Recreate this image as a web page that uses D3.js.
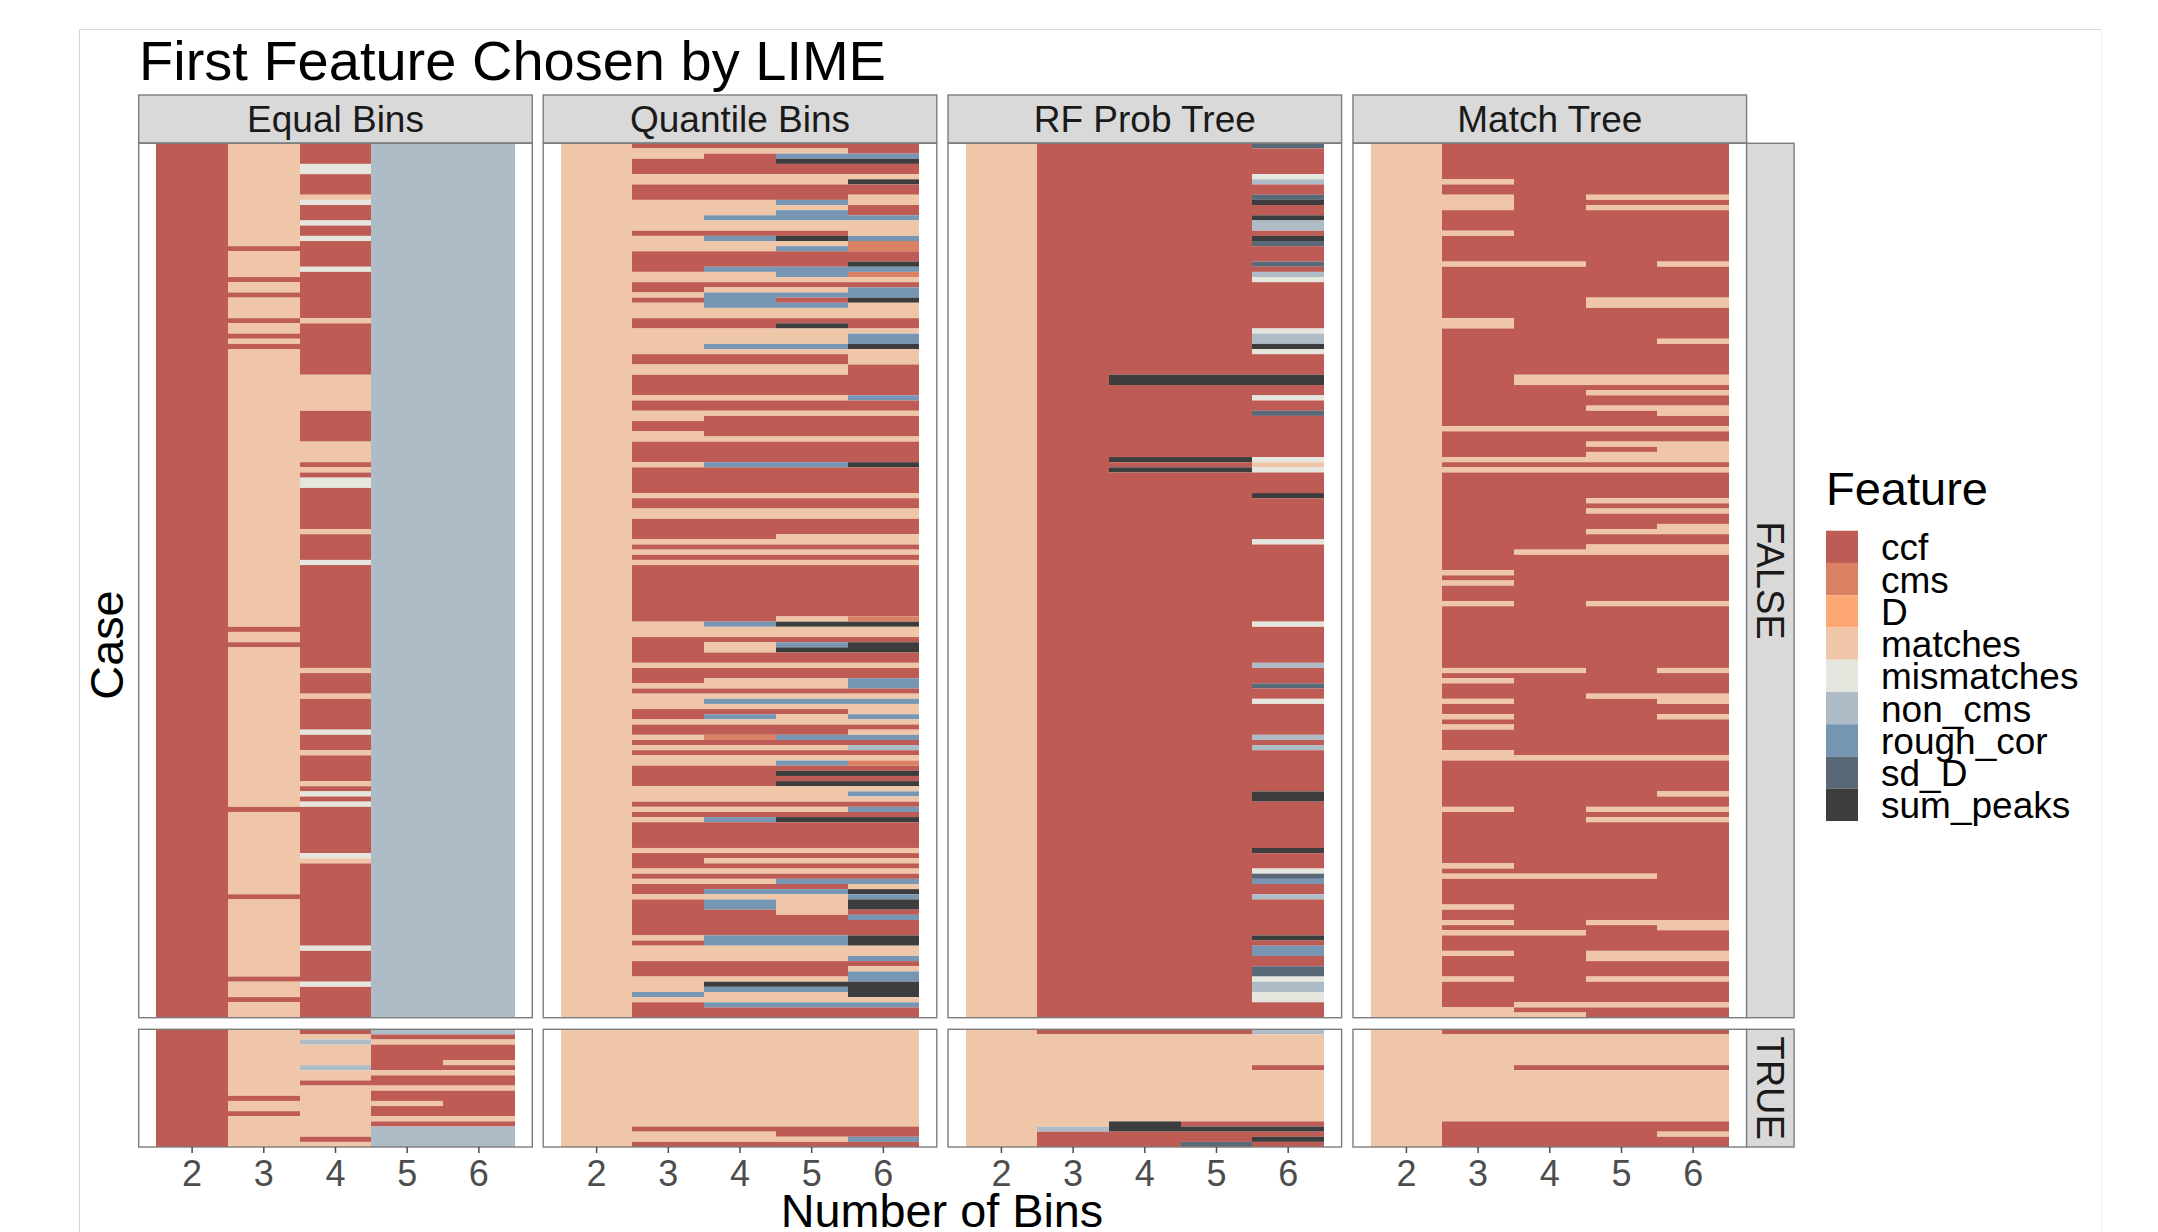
<!DOCTYPE html>
<html><head><meta charset="utf-8">
<script src="https://cdn.jsdelivr.net/npm/d3@7"></script>
<style>html,body{margin:0;padding:0;background:#fff}svg{display:block}text{font-family:"Liberation Sans",Arial,sans-serif}</style>
</head><body><div id="c"></div>
<script>
// ---------- values ----------
const features = ["ccf","cms","D","matches","mismatches","non_cms","rough_cor","sd_D","sum_peaks"];
const featureCodes = ["c","m","D","a","x","n","r","s","k"];
const featureColors = ["#bd5b54","#d98162","#fda873","#efc6a8","#e5e6de","#aebcc8","#7796b3","#596978","#3d3d3d"];
const bins = [2,3,4,5,6];
const methods = ["Equal Bins","Quantile Bins","RF Prob Tree","Match Tree"];
const outcomes = ["FALSE","TRUE"];
const caseCounts = [170,23];

// each column: a base feature, then runs "<code><first row>-<last row>" painted over it
const equalF2 = "c0-169";
const equalF3 = "a0-169 c20 c26 c29 c34 c37 c39 c94 c97 c129 c146 c162 c166";
const equalF4 = "c0-169 x4-5 a10 x11 x15 x18 x24 a34 a45-51 a58-61 a63 x65-66 a75 x81 a102 a107 x114 a118 a124 x126 x128 x138 a139 x156 x163";
const equalF5 = "n0-169";
const equalF6 = "n0-169";
const equalT2 = "c0-22";
const equalT3 = "a0-22 c13 c16";
const equalT4 = "a0-22 c0 n2 n7 c10 c21";
const equalT5 = "n0 c1 a2 c3-7 a8 c9-10 a11 c12-13 a14 c15-16 a17 c18 n19-22";
const equalT6 = "n0 c1 a2 c3-5 a6 c7 a8 c9-10 a11 c12-16 a17 c18 n19-22";

const quantF2 = "a0-169";
const quantF3 = "c0 a1-2 c3-5 a6-7 c8-10 a11-16 c17 a18-20 c21-24 a25-26 c27-28 a29 c30 a31-33 c34-35 a36-40 c41-42 a43-44 c45-48 a49 c50-51 a52-53 c54-55 a56-57 c58-61 a62 c63-67 a68 c69-70 a71-72 c73-76 a77 c78 a79 c80 a81 c82-92 a93-95 c96-100 a101 c102-104 a105 c106 a107-109 c110-111 a112 c113-114 a115 c116 a117 c118 a119-120 c121-124 a125-127 c128 a129 c130 a131 c132-136 a137 c138-140 a141 c142 a143 c144-145 a146 c147-153 a154 c155 a156-158 c159-161 a162-164 r165 a166 c167-169";
const quantF4 = "c0 a1 c2-5 a6-7 c8-10 a11-13 r14 a15-16 c17 r18 a19-20 c21-23 r24 a25-26 c27 a28 r29-31 a32-33 c34-35 a36-38 r39 a40 c41-42 a43-44 c45-48 a49 c50-51 a52 c53-56 a57 c58-61 r62 c63-67 a68 c69-70 a71-72 c73-76 a77 c78 a79 c80 a81 c82-92 r93 a94-95 c96 a97-98 c99-100 a101 c102-103 a104-105 c106 a107 r108 a109 c110 r111 a112 c113-114 m115 c116 a117 c118 a119-120 c121-124 a125-127 c128 a129 c130 r131 c132-136 a137 c138 a139 c140 a141 c142 a143 c144 r145 a146 r147-148 c149-153 r154-155 a156-158 c159-161 a162 k163 r164 a165-166 r167 c168-169";
const quantF5 = "c0 a1 r2 k3 c4-5 a6-7 c8-10 r11 a12 r13-14 a15-16 c17 k18 a19 r20 c21-23 r24-25 a26 c27 a28 r29 c30 r31 a32-33 c34 k35 a36-38 r39 a40 c41-42 a43-44 c45-48 a49 c50-51 a52 c53-56 a57 c58-61 r62 c63-67 a68 c69-70 a71-72 c73-75 a76-77 c78 a79 c80 a81 c82-91 a92 k93 a94-95 c96 r97 k98 c99-100 a101 c102-103 a104-105 c106 a107 r108 a109 c110 a111-112 c113-114 r115 c116 a117 c118 a119 r120 c121 k122 c123 k124 a125-127 c128 a129 c130 k131 c132-136 a137 c138 a139 c140 a141 c142 r143 c144 r145 a146-149 c150-153 r154-155 a156-158 c159-161 a162 k163 r164 a165-166 r167 c168-169";
const quantF6 = "c0-1 r2 k3 c4-5 a6 k7 c8-9 a10-11 c12-13 r14 a15-17 r18 m19-20 c21-22 k23 r24 m25 a26 c27 r28-29 k30 a31-33 c34-35 a36 r37-38 k39 a40-42 c43-48 r49 c50-51 a52 c53-56 a57 c58-61 k62 c63-67 a68 c69-70 a71-72 c73-75 a76-77 c78 a79 c80 a81 c82-91 m92 k93 a94-95 c96 k97-98 c99-100 a101 c102-103 r104-105 c106 a107 r108 a109-110 r111 a112 c113 a114 r115 c116 n117 c118 a119 m120 c121 k122 c123 k124 a125 r126 a127 c128 r129 c130 k131 c132-136 a137 c138 a139 c140 a141 c142 r143 a144 k145 r146 k147-148 c149 r150 c151-153 k154-155 a156-157 r158 c159 a160 r161-162 k163-165 a166 r167 c168-169";
const quantT2 = "a0-22";
const quantT3 = "a0-22 c19 c22";
const quantT4 = "a0-22 c19 c22";
const quantT5 = "a0-22 c19-20 c22";
const quantT6 = "a0-22 c19-20 r21 c22";

const forestF2 = "a0-169";
const forestF3 = "c0-169";
const forestF4 = "c0-169 k45-46 k61 k63";
const forestF5 = "c0-169 k45-46 k61 k63";
const forestF6 = "c0-169 s0 x6 n7 s10 k11 k14 n15-16 k18 s19 s23 n25 x26 x36 n37-38 k39 x40 k45-46 x49 s52 x61 a62 x63 k68 x77 x93 n101 s105 x108 n115 n117 k126-127 k137 x141 s142 r143 n146 k154 r156-157 s160-161 x162 n163-164 x165-166";
const forestT2 = "a0-22";
const forestT3 = "a0-22 c0 n19 c20-22";
const forestT4 = "a0-22 c0 k18-19 c20-22";
const forestT5 = "a0-22 c0 c18 k19 c20-21 s22";
const forestT6 = "a0-22 n0 c7 c18 k19 c20 k21 c22";

const matchF2 = "a0-169";
const matchF3 = "c0-169 a7 a10-12 a17 a23 a34-35 a55 a61 a63 a83 a85 a89 a102 a104 a108 a111 a113 a118-119 a129 a140 a142 a148 a151 a153 a157 a162 a168-169";
const matchF4 = "c0-169 a23 a45-46 a55 a61 a63 a79 a102 a119 a142 a153 a167 a169";
const matchF5 = "c0-169 a10 a12 a30-31 a45-46 a48 a51 a55 a58 a60-61 a63 a69 a71 a75 a78-79 a89 a107 a119 a129 a131 a142 a151 a157-158 a162 a167";
const matchF6 = "c0-169 a10 a12 a23 a30-31 a38 a45-46 a48 a51-52 a55 a58-61 a63 a69 a71 a74-75 a78-79 a89 a102 a107-108 a111 a119 a126 a129 a131 a151-152 a157-158 a162 a167";
const matchT2 = "a0-22";
const matchT3 = "a0-22 c0 c18-22";
const matchT4 = "a0-22 c0 c7 c18-22";
const matchT5 = "a0-22 c0 c7 c18-22";
const matchT6 = "a0-22 c0 c7 c18-19 a20 c21-22";

const tableFalse = [[equalF2,equalF3,equalF4,equalF5,equalF6],[quantF2,quantF3,quantF4,quantF5,quantF6],[forestF2,forestF3,forestF4,forestF5,forestF6],[matchF2,matchF3,matchF4,matchF5,matchF6]];
const tableTrue  = [[equalT2,equalT3,equalT4,equalT5,equalT6],[quantT2,quantT3,quantT4,quantT5,quantT6],[forestT2,forestT3,forestT4,forestT5,forestT6],[matchT2,matchT3,matchT4,matchT5,matchT6]];

// ---------- helpers ----------
function expand(spec,n){
  const out=new Array(n).fill("c");
  spec.split(" ").forEach(tok=>{
    const m=tok.match(/^([A-Za-z])(\d+)(?:-(\d+))?$/);
    const a=+m[2],b=m[3]===undefined?a:+m[3];
    for(let i=a;i<=b;i++)out[i]=m[1];
  });
  return out;
}
function runs(codes){
  const r=[];let s=0;
  for(let i=1;i<=codes.length;i++){
    if(i===codes.length||codes[i]!==codes[s]){r.push({code:codes[s],first:s,last:i-1});s=i;}
  }
  return r;
}
// ---------- layout ----------
const W=2158,H=1232;
const svg=d3.select("#c").append("svg").attr("width",W).attr("height",H).attr("viewBox",[0,0,W,H]);
const color=d3.scaleOrdinal().domain(featureCodes).range(featureColors);
const feature=d3.scaleOrdinal().domain(featureCodes).range(features);

// faint page frame
svg.append("path").attr("d",`M79.5,${H}V29.5H2101`).attr("fill","none").attr("stroke","#d8d8d8").attr("stroke-width",1);
svg.append("path").attr("d",`M2101.5,29.5V${H}`).attr("fill","none").attr("stroke","#eeeeee").attr("stroke-width",1);

const panelLefts=[138.7,543.2,948,1353];
const panelWidth=393.6;
const rowsY=[[143.3,1017.7],[1029.3,1147]];
const tables=[tableFalse,tableTrue];
const borderColor="#7d7d7d";

methods.forEach((method,pi)=>{
  const L=panelLefts[pi],R=L+panelWidth;
  const x=d3.scaleBand().domain(bins).range([L,R]).paddingInner(0).paddingOuter(0.245);
  // column strip
  const st=svg.append("g");
  st.append("rect").attr("x",L).attr("y",95).attr("width",panelWidth).attr("height",48)
    .attr("fill","#d9d9d9").attr("stroke",borderColor).attr("stroke-width",1.4);
  st.append("text").attr("x",(L+R)/2).attr("y",131.5).attr("text-anchor","middle")
    .attr("font-size",37).attr("fill","#1a1a1a").text(method);

  outcomes.forEach((o,oi)=>{
    const n=caseCounts[oi];
    const y=d3.scaleBand().domain(d3.range(n)).range(rowsY[oi]);
    const g=svg.append("g");
    bins.forEach((b,bi)=>{
      const rr=runs(expand(tables[oi][pi][bi],n));
      const x0=Math.round(x(b)),x1=Math.round(x(b)+x.bandwidth());
      g.selectAll(null).data(rr).join("rect")
        .attr("x",x0).attr("width",x1-x0)
        .attr("y",d=>y(d.first)).attr("height",d=>y(d.last)+y.bandwidth()-y(d.first))
        .attr("fill",d=>color(d.code))
        .append("title").text(d=>`${method} ${o} ${b}: ${feature(d.code)}`);
    });
    g.append("rect").attr("x",L).attr("y",rowsY[oi][0]).attr("width",panelWidth)
      .attr("height",rowsY[oi][1]-rowsY[oi][0]).attr("fill","none")
      .attr("stroke",borderColor).attr("stroke-width",1.4);
  });
  // x axis
  const ax=svg.append("g").attr("transform",`translate(0,${rowsY[1][1]})`)
    .call(d3.axisBottom(x).tickSize(6).tickPadding(7));
  ax.select(".domain").remove();
  ax.selectAll(".tick line").attr("stroke","#4d4d4d").attr("stroke-width",1.5);
  ax.selectAll(".tick text").attr("fill","#4d4d4d").attr("font-size",36)
    .attr("font-family","'Liberation Sans',Arial,sans-serif");
});

// row strips
const stripX=panelLefts[3]+panelWidth;
outcomes.forEach((o,oi)=>{
  const [a,b]=rowsY[oi];
  svg.append("rect").attr("x",stripX).attr("y",a).attr("width",47.5).attr("height",b-a)
    .attr("fill","#d9d9d9").attr("stroke",borderColor).attr("stroke-width",1.4);
  svg.append("text").attr("transform",`translate(${stripX+10.5},${(a+b)/2}) rotate(90)`)
    .attr("text-anchor","middle").attr("font-size",38).attr("fill","#1a1a1a").text(o);
});

// titles
svg.append("text").attr("x",139).attr("y",80).attr("font-size",56).attr("fill","#000").text("First Feature Chosen by LIME");
svg.append("text").attr("x",942).attr("y",1227).attr("text-anchor","middle").attr("font-size",46.8).attr("fill","#000").text("Number of Bins");
svg.append("text").attr("transform","translate(123,645) rotate(-90)").attr("text-anchor","middle").attr("font-size",46.8).attr("fill","#000").text("Case");

// legend
const legendY=d3.scaleBand().domain(features).range([530.7,821]);
svg.append("text").attr("x",1826).attr("y",505).attr("font-size",47).attr("fill","#000").text("Feature");
const lg=svg.append("g");
lg.selectAll("rect").data(features).join("rect")
  .attr("x",1826).attr("width",32).attr("y",d=>legendY(d)).attr("height",legendY.bandwidth())
  .attr("fill",(d,i)=>featureColors[i]);
lg.selectAll("text").data(features).join("text")
  .attr("x",1881).attr("y",d=>legendY(d)+legendY.bandwidth()/2+13.5)
  .attr("font-size",37).attr("fill","#000").text(d=>d);
</script></body></html>
